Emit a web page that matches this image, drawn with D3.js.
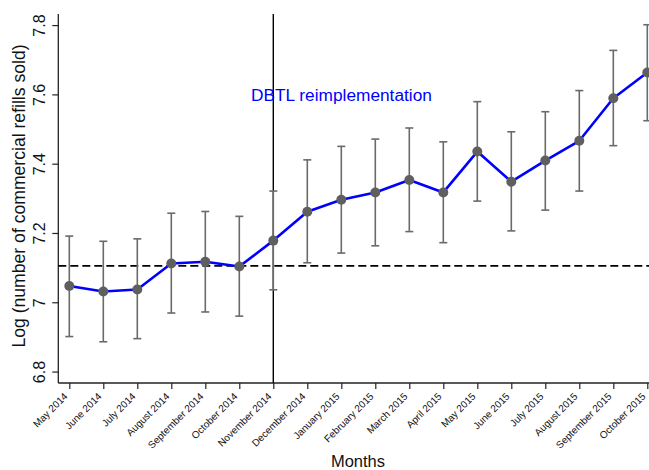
<!DOCTYPE html>
<html>
<head>
<meta charset="utf-8">
<script src="https://cdn.jsdelivr.net/npm/d3@7"></script>
<style>
  html, body { margin: 0; padding: 0; background: #fff; }
  svg { display: block; font-family: "Liberation Sans", Arial, sans-serif; }
</style>
</head>
<body>
<svg id="chart" width="649" height="470"></svg>
<script>
const months = ["May 2014","June 2014","July 2014","August 2014","September 2014","October 2014","November 2014","December 2014","January 2015","February 2015","March 2015","April 2015","May 2015","June 2015","July 2015","August 2015","September 2015","October 2015"];
const estimates = [7.047, 7.031, 7.037, 7.112, 7.117, 7.103, 7.178, 7.261, 7.296, 7.317, 7.353, 7.317, 7.435, 7.348, 7.409, 7.466, 7.589, 7.663];
const lower = [6.901, 6.886, 6.895, 6.969, 6.972, 6.960, 7.036, 7.114, 7.142, 7.163, 7.204, 7.172, 7.292, 7.206, 7.266, 7.321, 7.452, 7.524];
const upper = [7.191, 7.176, 7.183, 7.257, 7.262, 7.248, 7.321, 7.411, 7.450, 7.471, 7.503, 7.463, 7.579, 7.492, 7.550, 7.611, 7.727, 7.801];
const yTicks = [6.8, 7, 7.2, 7.4, 7.6, 7.8];
const yTickLabels = ["6.8", "7", "7.2", "7.4", "7.6", "7.8"];
const referenceLevel = 7.105;
const interventionMonth = "November 2014";
const annotation = "DBTL reimplementation";
const yTitle = "Log (number of commercial refills sold)";
const xTitle = "Months";

const svg = d3.select("#chart");
const plotLeft = 58.3, plotRight = 649, plotTop = 14, plotBottom = 383;

const x = d3.scalePoint().domain(months).range([69.3, 647.3]);
const y = d3.scaleLinear().domain([6.767, 7.832]).range([plotBottom, plotTop]);

// Y axis
const yAxis = d3.axisLeft(y).tickValues(yTicks).tickSize(6).tickSizeOuter(0)
  .tickFormat((d, i) => yTickLabels[i]);
const gy = svg.append("g").attr("transform", `translate(${plotLeft},0)`).call(yAxis);
gy.select(".domain").remove();
gy.selectAll(".tick line").attr("stroke", "#222").attr("stroke-width", 1.2);
gy.selectAll(".tick text").remove();
gy.selectAll(".tick").append("text")
  .attr("transform", "translate(-13,0) rotate(-90)")
  .attr("text-anchor", "middle")
  .attr("fill", "#111")
  .attr("font-size", 16)
  .text((d, i) => yTickLabels[i]);

svg.append("line")
  .attr("x1", plotLeft).attr("x2", plotLeft)
  .attr("y1", plotTop).attr("y2", plotBottom)
  .attr("stroke", "#222").attr("stroke-width", 1.3);

// X axis
const xAxis = d3.axisBottom(x).tickSize(6).tickSizeOuter(0);
const gx = svg.append("g").attr("transform", `translate(0,${plotBottom})`).call(xAxis);
gx.select(".domain").remove();
gx.selectAll(".tick line").attr("stroke", "#222").attr("stroke-width", 1.2);
gx.selectAll(".tick text").remove();
gx.selectAll(".tick").append("text")
  .attr("transform", "translate(-1.5,14) rotate(-45)")
  .attr("text-anchor", "end")
  .attr("fill", "#111")
  .attr("font-size", 10)
  .text(d => d);

svg.append("line")
  .attr("x1", plotLeft).attr("x2", plotRight)
  .attr("y1", plotBottom).attr("y2", plotBottom)
  .attr("stroke", "#222").attr("stroke-width", 1.3);

// Reference dashed line
svg.append("line")
  .attr("x1", plotLeft).attr("x2", plotRight)
  .attr("y1", y(referenceLevel)).attr("y2", y(referenceLevel))
  .attr("stroke", "#000").attr("stroke-width", 1.6)
  .attr("stroke-dasharray", "8,4");

// Vertical intervention line
svg.append("line")
  .attr("x1", x(interventionMonth)).attr("x2", x(interventionMonth))
  .attr("y1", plotTop).attr("y2", plotBottom)
  .attr("stroke", "#000").attr("stroke-width", 1.4);

// Error bars
const data = months.map((m, i) => ({ m, v: estimates[i], lo: lower[i], hi: upper[i] }));
const eb = svg.append("g").attr("stroke", "#6a6a6a").attr("stroke-width", 1.6);
eb.selectAll("line.v").data(data).join("line").attr("class", "v")
  .attr("x1", d => x(d.m)).attr("x2", d => x(d.m))
  .attr("y1", d => y(d.lo)).attr("y2", d => y(d.hi));
eb.selectAll("line.t").data(data).join("line").attr("class", "t")
  .attr("x1", d => x(d.m) - 4).attr("x2", d => x(d.m) + 4)
  .attr("y1", d => y(d.hi)).attr("y2", d => y(d.hi));
eb.selectAll("line.b").data(data).join("line").attr("class", "b")
  .attr("x1", d => x(d.m) - 4).attr("x2", d => x(d.m) + 4)
  .attr("y1", d => y(d.lo)).attr("y2", d => y(d.lo));

// Line
svg.append("path").datum(data)
  .attr("fill", "none").attr("stroke", "#0000ff").attr("stroke-width", 2.6)
  .attr("stroke-linejoin", "round")
  .attr("d", d3.line().x(d => x(d.m)).y(d => y(d.v)));

// Markers
svg.append("g").selectAll("circle").data(data).join("circle")
  .attr("cx", d => x(d.m)).attr("cy", d => y(d.v)).attr("r", 5)
  .attr("fill", "#5f5f5f");

// Annotation
svg.append("text")
  .attr("x", 251).attr("y", 101)
  .attr("fill", "#0000ff").attr("font-size", 17.3)
  .text(annotation);

// Titles
svg.append("text")
  .attr("transform", `translate(25,196) rotate(-90)`)
  .attr("text-anchor", "middle").attr("fill", "#111").attr("font-size", 17.6)
  .text(yTitle);

svg.append("text")
  .attr("x", 358).attr("y", 467)
  .attr("text-anchor", "middle").attr("fill", "#111").attr("font-size", 16.5)
  .text(xTitle);
</script>
</body>
</html>
